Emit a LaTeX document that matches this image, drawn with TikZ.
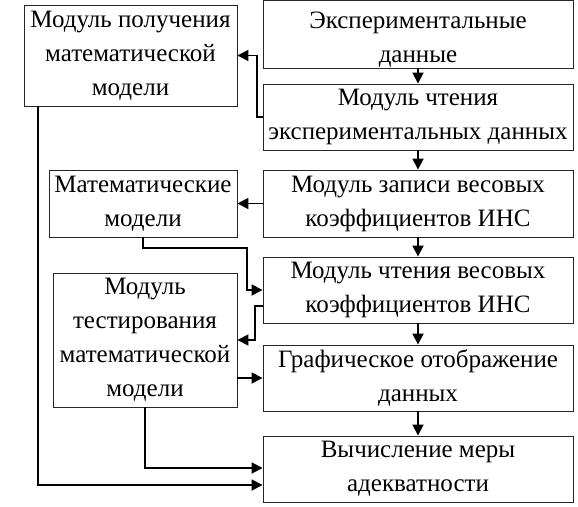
\documentclass[tikz,border=0pt]{standalone}
\usepackage{fontspec}
\setmainfont{Liberation Serif}
\usetikzlibrary{arrows.meta}
\begin{document}
\begin{tikzpicture}[x=1pt,y=-1pt,
  box/.style={draw=black!85, line width=0.9pt, inner sep=0pt, align=center,
    font=\fontsize{25}{34}\selectfont},
  rbox/.style={box, minimum width=310pt, minimum height=66pt},
  conn/.style={line width=1.8pt, -{Triangle[length=11pt,width=11pt]}}]
\useasboundingbox (0,0) rectangle (578,506);
\node[rbox, minimum height=58pt] (R1) at (418,34) {\raisebox{-5pt}[\height][\depth]{\begin{tabular}{@{}c@{}}Экспериментальные\\данные\end{tabular}}};
\node[rbox] (R2) at (418,117) {Модуль чтения\\экспериментальных данных};
\node[rbox, minimum height=67pt] (R3) at (418,203.5) {Модуль записи весовых\\коэффициентов ИНС};
\node[rbox] (R4) at (418,290) {Модуль чтения весовых\\коэффициентов ИНС};
\node[rbox] (R5) at (418,378) {Графическое отображение\\данных};
\node[rbox] (R6) at (418,469) {Вычисление меры\\адекватности};
\node[box, minimum width=213pt, minimum height=101pt] (L1) at (130.5,55.5) {Модуль получения\\математической\\модели};
\node[box, minimum width=188pt, minimum height=67pt] (L2) at (143,203.5) {Математические\\модели};
\node[box, minimum width=184pt, minimum height=134pt] (L3) at (145,340) {Модуль\\тестирования\\математической\\модели};
\coordinate (c1) at (257,117);
\coordinate (c2) at (247,248);
\coordinate (c3) at (255,340);
\draw[conn] (R1.south) -- (R2.north);
\draw[conn] (R2.south) -- (R3.north);
\draw[conn] (R3.south) -- (R4.north);
\draw[conn] (R4.south) -- (R5.north);
\draw[conn] (R5.south) -- (R6.north);
\draw[conn] (R2.west) -- (c1) |- (L1.east);
\draw[conn] (R3.west) -- (L2.east);
\draw[conn] (L2.south) |- (c2) |- (R4.west);
\draw[conn] ([yshift=-16pt]R4.west) -| (c3) -- (L3.east);
\draw[conn] (R5.west -| L3.east) -- (R5.west);
\draw[conn] (L3.south) |- ([yshift=1pt]R6.west);
\draw[conn] ([xshift=-92.5pt]L1.south) |- ([yshift=-16pt]R6.west);
\end{tikzpicture}
\end{document}
